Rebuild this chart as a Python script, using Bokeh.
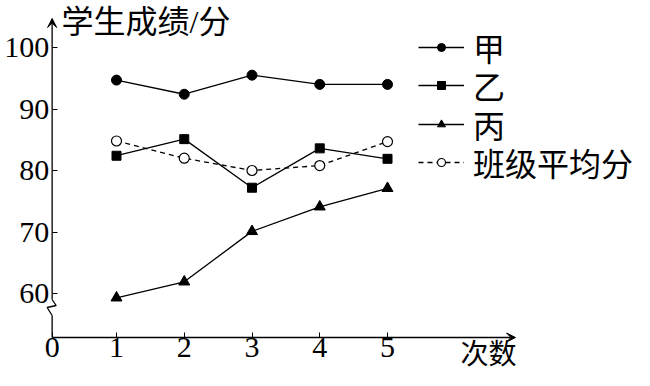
from bokeh.plotting import figure
from bokeh.models import (Range1d, FixedTicker, Arrow, VeeHead, Label, Legend, LegendItem)
from bokeh.embed import file_html
from bokeh.resources import INLINE

# ---- data ----
times = [1, 2, 3, 4, 5]
jia = [94.7, 92.4, 95.5, 94.0, 94.0]
yi = [82.4, 85.1, 77.2, 83.6, 81.9]
bing = [59.3, 61.9, 70.1, 74.1, 77.1]
avg = [84.8, 82.0, 80.0, 80.8, 84.7]
y_ticks = [60, 70, 80, 90, 100]
x_ticks = [1, 2, 3, 4, 5]
series_names = ["甲", "乙", "丙", "班级平均分"]
y_title = "学生成绩/分"
x_title = "次数"
origin_label = "0"

# ---- layout (the frame fills the whole figure; axes are pinned with fixed_location) ----
W, H = 634, 370
PX_X = 67.75          # pixels per x unit
PX_Y = 6.15           # pixels per y unit
X1_PX = 116           # pixel column of x = 1
Y100_PX = 47          # pixel row of y = 100
AXIS_ROW = 337        # pixel row of the x axis
x_lo = 1 - X1_PX / PX_X
x_hi = x_lo + W / PX_X
y_hi = 100 + Y100_PX / PX_Y
y_lo = y_hi - H / PX_Y
x_origin = 0.05
y_origin = y_hi - AXIS_ROW / PX_Y


def y_px(py):
    """data y for a pixel row (decorations only)"""
    return y_hi - py / PX_Y


CJK = "Liberation Serif, Noto Sans CJK SC"
SERIF = "Liberation Serif"

p = figure(width=W, height=H, output_backend="svg", toolbar_location=None,
           x_range=Range1d(x_lo, x_hi), y_range=Range1d(y_lo, y_hi),
           min_border=0, outline_line_color=None)
p.grid.visible = False
p.background_fill_color = "white"
p.border_fill_color = "white"

for ax in (p.xaxis[0], p.yaxis[0]):
    ax.axis_line_color = None
    ax.major_tick_in = 5
    ax.major_tick_out = 0
    ax.minor_tick_in = 0
    ax.minor_tick_out = 0
    ax.major_tick_line_color = "black"
    ax.major_tick_line_width = 1
    ax.major_label_text_font = SERIF
    ax.major_label_text_font_size = "30px"
    ax.major_label_text_color = "black"
p.xaxis[0].major_label_standoff = 0
p.yaxis[0].major_label_standoff = 3
p.xaxis[0].fixed_location = y_origin
p.yaxis[0].fixed_location = x_origin

p.xaxis[0].ticker = FixedTicker(ticks=[x_origin] + x_ticks)
p.xaxis[0].major_label_overrides = {x_origin: origin_label}
p.yaxis[0].ticker = FixedTicker(ticks=y_ticks)

LW = 1.3
# y axis with a break (zigzag) and arrow heads
zig_top = y_px(299)
zig_bot = y_px(315)
p.line([x_origin, x_origin], [y_origin, zig_bot], line_color="black", line_width=LW)
p.line([x_origin, x_origin - 5 / PX_X, x_origin + 4 / PX_X, x_origin],
       [zig_bot, y_px(307), y_px(305), zig_top],
       line_color="black", line_width=LW)
p.add_layout(Arrow(end=VeeHead(size=9, fill_color="black", line_color="black", line_width=1),
                   x_start=x_origin, y_start=zig_top, x_end=x_origin, y_end=y_px(18),
                   line_color="black", line_width=LW))
p.add_layout(Arrow(end=VeeHead(size=9, fill_color="black", line_color="black", line_width=1),
                   x_start=x_origin, y_start=y_origin, x_end=5 + 128 / PX_X, y_end=y_origin,
                   line_color="black", line_width=LW))

# ---- series ----
l1 = p.line(times, jia, line_color="black", line_width=LW)
l2 = p.line(times, yi, line_color="black", line_width=LW)
l3 = p.line(times, bing, line_color="black", line_width=LW)
l4 = p.line(times, avg, line_color="black", line_width=LW, line_dash="5 4")
m1 = p.scatter(times, jia, marker="circle", size=10, fill_color="black", line_color="black")
m2 = p.scatter(times, yi, marker="square", size=9, fill_color="black", line_color="black")
m3 = p.scatter(times, bing, marker="triangle", size=11, fill_color="black", line_color="black")
m4 = p.scatter(times, avg, marker="circle", size=10, fill_color="white", line_color="black", line_width=1.2)

# one legend per entry so that the row pitch matches the reference
renderers = [[l1, m1], [l2, m2], [l3, m3], [l4, m4]]
row_centers = [52, 90, 129, 167]
for name, rs, cy in zip(series_names, renderers, row_centers):
    lg = Legend(items=[LegendItem(label=name, renderers=rs)],
                location=(418, H - (cy + 18)), orientation="vertical")
    lg.label_text_font = CJK
    lg.label_text_font_size = "32px"
    lg.label_text_color = "black"
    lg.glyph_width = 46
    lg.glyph_height = 20
    lg.label_standoff = 9
    lg.padding = 0
    lg.margin = 0
    lg.spacing = 0
    lg.border_line_color = None
    lg.background_fill_alpha = 0
    p.add_layout(lg, "center")

# ---- titles ----
p.add_layout(Label(x=61, y=H - 21, x_units="screen", y_units="screen", text=y_title,
                   text_font=CJK, text_font_size="32px", text_baseline="middle",
                   text_align="left", text_color="black"))
p.add_layout(Label(x=460, y=H - 353.5, x_units="screen", y_units="screen", text=x_title,
                   text_font=CJK, text_font_size="28px", text_baseline="middle",
                   text_align="left", text_color="black"))

open("out.html", "w").write(file_html(p, INLINE))
